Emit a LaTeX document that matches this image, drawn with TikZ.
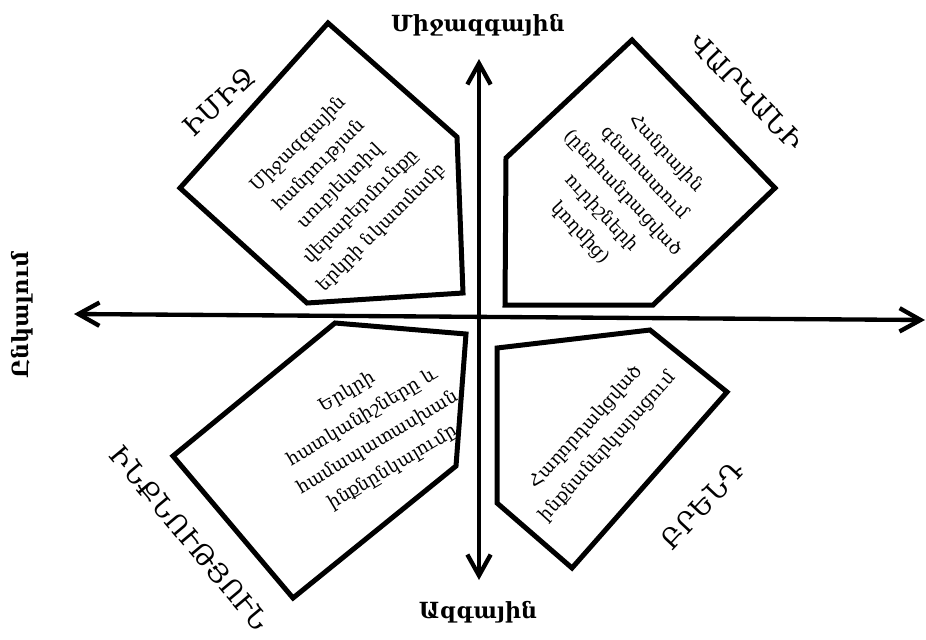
\documentclass[tikz,border=0pt]{standalone}
\usepackage{fontspec}
\setmainfont{DejaVu Serif}
\usetikzlibrary{arrows.meta}

\begin{document}
\begin{tikzpicture}[
    x=0.03cm, y=-0.03cm,
    axis/.style={{Straight Barb[length=6.3mm, width=7mm]}-{Straight Barb[length=6.3mm, width=7mm]}, line width=1.3mm},
    pentagon/.style={draw, line width=1.5mm, line join=miter},
    quadtext/.style={align=center, font=\fontsize{15.5}{25}\selectfont},
    quadlabel/.style={font=\fontsize{23}{26}\selectfont},
    axislabel/.style={font=\bfseries\fontsize{19}{24}\selectfont}
]
\useasboundingbox (0,0) rectangle (926,639);

\coordinate (axisW) at (74,314);
\coordinate (axisE) at (925,320);
\coordinate (axisN) at (479,59);
\coordinate (axisS) at (479,580);
\draw[axis] (axisW) -- (axisE);
\draw[axis] (axisS) -- (axisN);

\draw[pentagon] (328,23) -- (457,137) -- (463,293) -- (307,303) -- (180,188) -- cycle;
\draw[pentagon] (632,40) -- (775,188) -- (653,305) -- (505,305) -- (506,158) -- cycle;
\draw[pentagon] (335,323) -- (466,334) -- (456,466) -- (293,598) -- (173,456) -- cycle;
\draw[pentagon] (497,348) -- (650,330) -- (727,392) -- (572,568) -- (497,503) -- cycle;

\node[quadtext, rotate=45] (imagetext) at (340,186) {Միջազգային\\հանրության\\սուբյեկտիվ\\վերաբերմունքը\\երկրի նկատմամբ};
\node[quadtext, rotate=-47] (ratingtext) at (623,193) {Հանրային\\գնահատում\\(ընդհանրացված\\ուրիշների\\կողմից)};
\node[quadtext, rotate=31] (identitytext) at (370,430) {Երկրի\\հատկանիշները և\\համապատասխան\\ինքնընկալումը};
\node[quadtext, rotate=48] (brandtext) at (597,437) {Հաղորդակցված\\ինքնաներկայացում};

\node[quadlabel, rotate=43] (image) at (219,102) {ԻՄԻՋ};
\node[quadlabel, rotate=-46] (rating) at (747,92) {ՎԱՐԿԱՆԻ};
\node[quadlabel, rotate=-50] (identity) at (190,538) {ԻՆՔՆՈՒԹՅՈՒՆ};
\node[quadlabel, rotate=47] (brand) at (702,505) {ԲՐԵՆԴ};

\node[axislabel] (international) at (478,25) {Միջազգային};
\node[axislabel] (national) at (478,612) {Ազգային};
\node[axislabel, rotate=90] (perception) at (22,315) {Ընկալում};
\end{tikzpicture}
\end{document}
